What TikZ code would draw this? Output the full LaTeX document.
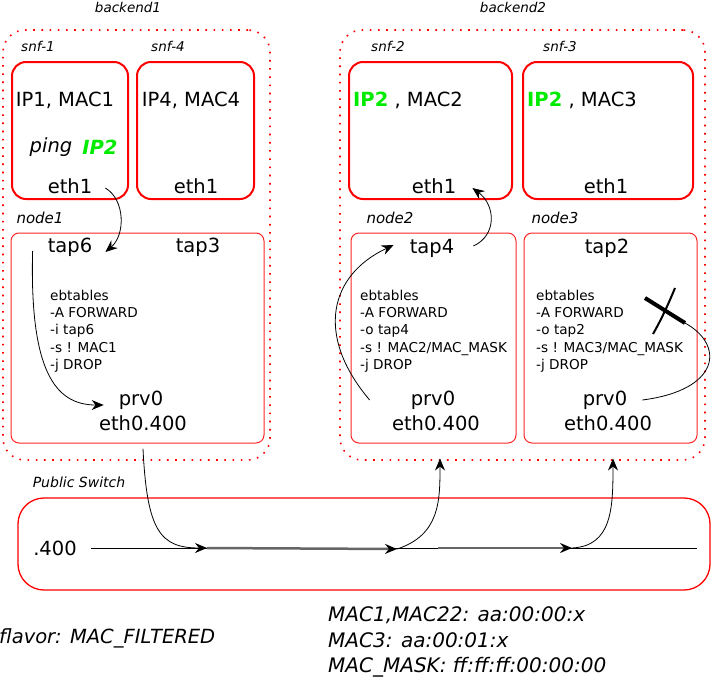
\documentclass[tikz,border=0pt]{standalone}
\usepackage{fontspec}
\setmainfont{DejaVu Sans}
\usetikzlibrary{arrows.meta}

\definecolor{ipgreen}{RGB}{0,235,0}

\tikzset{%
  snfbox/.style={draw=red, line width=2pt, rounded corners=14pt, inner sep=0pt},
  hostbox/.style={draw=red!85, line width=1pt, rounded corners=8pt, inner sep=0pt},
  backendbox/.style={draw=red, line width=1.6pt, dash pattern=on 1.6pt off 6.6pt,
    rounded corners=22pt, inner sep=0pt},
  switchbox/.style={draw=red, line width=1.3pt, rounded corners=26pt, inner sep=0pt},
  tag/.style={font=\fontsize{13.5}{15}\selectfont\itshape, inner sep=0pt},
  big/.style={font=\fontsize{19.5}{22}\selectfont, inner sep=0pt},
  rules/.style={font=\fontsize{13.6}{17.25}\selectfont, align=left, anchor=west, inner sep=0pt},
  note/.style={font=\fontsize{20}{25.5}\selectfont\itshape, align=left, anchor=west, inner sep=0pt},
  flow/.style={->, line width=0.8pt},
  segment/.style={->, line width=2.5pt, black!60, >={Stealth[length=12pt,width=10pt,inset=4pt,color=black]}},
}

\begin{document}
\begin{tikzpicture}[x=1pt, y=-1pt, >={Stealth[length=12pt,width=10pt,inset=4pt]}]
\useasboundingbox (0,0) rectangle (714,680);
%=========================================================================================================
% Backends
%=========================================================================================================

\node [backendbox, minimum width=267, minimum height=430] (backend1) at (136.5,245) {};
\node [backendbox, minimum width=365, minimum height=430] (backend2) at (522.5,245) {};

\foreach \n/\x in {1/128, 2/513}
  \node [tag] (backend\n-lbl) at (\x,7) {backend\n};

%=========================================================================================================
% snf boxes
%=========================================================================================================

\foreach \n/\x/\w in {1/70/116, 4/195.5/117, 2/430.5/163, 3/608/170}
  \node [snfbox, minimum width=\w, minimum height=137] (snf\n) at (\x,130.5) {};

%Name the snf boxes above them
\foreach \n/\x in {1/38, 4/168, 2/388, 3/560}
  \node [tag] (snf\n-lbl) at (\x,46) {snf-\n};

\node [big] (ip-1) at (65,100) {IP1, MAC1};
\node [big] (ip-4) at (191,100) {IP4, MAC4};
\node [big] (ip-2) at (408,100) {\textcolor{ipgreen}{\bfseries IP2} , MAC2};
\node [big] (ip-3) at (582,100) {\textcolor{ipgreen}{\bfseries IP2} , MAC3};

\node [big, font=\fontsize{19.5}{22}\selectfont\itshape] (ping) at (51,147) {ping};
\node [big, font=\fontsize{19.5}{22}\selectfont\itshape\bfseries, ipgreen] (ping-ip) at (100,147) {IP2};

\foreach \n/\x in {1/70, 4/196, 2/434, 3/606}
  \node [big] (eth1-\n) at (\x,186) {eth1};

%=========================================================================================================
% Host nodes
%=========================================================================================================

\foreach \n/\x/\w in {1/137.5/253, 2/433.5/165, 3/610.5/173}
  \node [hostbox, minimum width=\w, minimum height=210] (node\n) at (\x,338) {};

\foreach \n/\x in {1/40, 2/390, 3/555}
  \node [tag, font=\fontsize{15}{17}\selectfont\itshape] (node\n-lbl) at (\x,218) {node\n};

\foreach \t/\x/\y in {6/70/247, 3/198/247, 4/432/248, 2/607/248}
  \node [big] (tap\t) at (\x,\y) {tap\t};

\foreach \n/\x in {1/141, 2/433, 3/605}
  \node [big] (prv0-\n) at (\x,400) {prv0};

\foreach \n/\x in {1/143, 2/436, 3/608}
  \node [big] (eth0-\n) at (\x,423) {eth0.400};

%ebtables rules
\node [rules] (rule1) at (50,331) {ebtables\\-A FORWARD\\-i tap6\\-s ! MAC1\\-j DROP};
\node [rules] (rule2) at (360,331) {ebtables\\-A FORWARD\\-o tap4\\-s ! MAC2/MAC\_MASK\\-j DROP};
\node [rules] (rule3) at (536,331) {ebtables\\-A FORWARD\\-o tap2\\-s ! MAC3/MAC\_MASK\\-j DROP};

%=========================================================================================================
% Public switch
%=========================================================================================================

\node [switchbox, minimum width=692, minimum height=92] (switch) at (364,544) {};
\node [tag, font=\fontsize{14}{16}\selectfont\itshape] (switch-lbl) at (79,482) {Public Switch};
\node [big] (lan) at (55,548) {.400};

\coordinate (lan-end) at (697,548);
\coordinate (sw-a) at (207,548);
\coordinate (sw-b) at (397,549);
\coordinate (sw-c) at (438,548);
\coordinate (sw-d) at (572,548);

\draw [line width=1pt] ([xshift=14]lan.east) -- (lan-end);
\draw [segment] (sw-a) -- (sw-b);
\draw [segment] (sw-c) -- (sw-d);

%=========================================================================================================
% Draw connections
%=========================================================================================================

%snf-1 to tap6 and down to prv0
\draw [flow] ([shift={(13,2)}]eth1-1.east) .. controls +(20,12) and +(20,-17) .. ([shift={(13,5)}]tap6.east);
\draw [flow] ([shift={(-15,4)}]tap6.west) .. controls +(-3,119) and +(-49,0) .. ([shift={(-15,5)}]prv0-1.west);

%out of node1, along the switch, into node2 and node3
\draw [flow] ([shift={(0,18)}]eth0-1.south) .. controls +(4,82) and +(-47,0) .. (sw-a);
\draw [flow] (sw-b) .. controls +(43,-14) and +(0,42) .. ([shift={(6.5,15)}]node2.south);
\draw [flow] (sw-d) .. controls +(40,-2) and +(0,50) .. ([shift={(2.5,15)}]node3.south);

%node2 up to snf-2
\draw [flow] ([shift={(-41,0)}]prv0-2.west) .. controls +(-55,-65) and +(-64,30) .. ([shift={(-16,-3)}]tap4.west);
\draw [flow] ([shift={(19,-2)}]tap4.east) .. controls +(24,-11) and +(23,17) .. ([shift={(16,2)}]eth1-2.east);

%node3 is dropped
\coordinate (xmark) at (685,323);
\draw [line width=0.8pt] ([shift={(15,0)}]prv0-3.east) .. controls +(78,-10) and +(40,22) .. (xmark);
\draw [line width=4pt] (645,298) -- (xmark);
\draw [line width=2pt] (675,288) .. controls (668,305) and (661,320) .. (653,334);

%=========================================================================================================
% Notes
%=========================================================================================================

\node [note, font=\fontsize{19.5}{22}\selectfont\itshape] (flavor) at (-1,638) {flavor: MAC\_FILTERED};
\node [note] (macs) at (328,642) {MAC1,MAC22: aa:00:00:x\\MAC3: aa:00:01:x\\MAC\_MASK: ff:ff:ff:00:00:00};

\end{tikzpicture}
\end{document}
